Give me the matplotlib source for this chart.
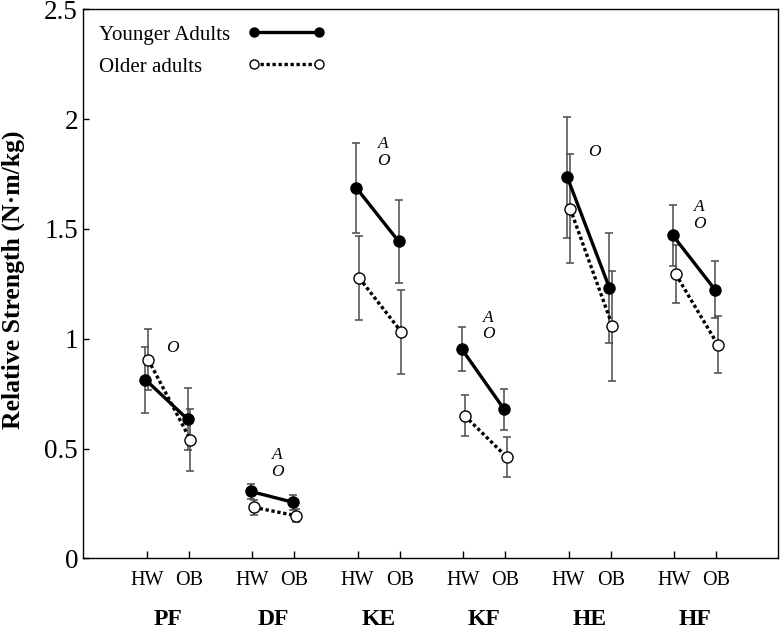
import matplotlib
matplotlib.use("Agg")
import matplotlib.pyplot as plt
from matplotlib.lines import Line2D

plt.rcParams['font.family'] = ['Liberation Serif', 'DejaVu Serif']

muscles = ["PF", "DF", "KE", "KF", "HE", "HF"]
conditions = ["HW", "OB"]

young_hw = [0.814, 0.305, 1.687, 0.953, 1.736, 1.471]
young_ob = [0.634, 0.256, 1.444, 0.680, 1.231, 1.224]
young_hw_err = [0.150, 0.035, 0.205, 0.100, 0.275, 0.140]
young_ob_err = [0.140, 0.033, 0.190, 0.093, 0.250, 0.130]

older_hw = [0.905, 0.233, 1.277, 0.650, 1.593, 1.295]
older_ob = [0.540, 0.195, 1.031, 0.461, 1.060, 0.973]
older_hw_err = [0.140, 0.034, 0.190, 0.092, 0.250, 0.130]
older_ob_err = [0.140, 0.031, 0.190, 0.092, 0.250, 0.130]

sig_marks = [["O"], ["A", "O"], ["A", "O"], ["A", "O"], ["O"], ["A", "O"]]
sig_top = [0.958, 0.47, 1.885, 1.095, 1.851, 1.599]

yticks = [0, 0.5, 1, 1.5, 2, 2.5]
ytick_labels = ["0", "0.5", "1", "1.5", "2", "2.5"]

fig = plt.figure(figsize=(7.8, 6.34), dpi=100)
ax = fig.add_axes([0.1068, 0.1191, 0.89, 0.8662])

pair = 0.4
off_y, off_o = -0.012, 0.015
dotted = (0, (1, 0.8))
ecol = '#4a4a4a'

for i in range(len(muscles)):
    xo = [i + off_o, i + pair + off_o]
    ax.errorbar(xo, [older_hw[i], older_ob[i]], yerr=[older_hw_err[i], older_ob_err[i]],
                fmt='none', ecolor=ecol, elinewidth=1.1, capsize=3.2, capthick=1.1, zorder=2)
    ax.plot(xo, [older_hw[i], older_ob[i]], linestyle=dotted, lw=2.4, color='black',
            marker='o', ms=8, mfc='white', mec='black', mew=1.0, zorder=3)
    xy = [i + off_y, i + pair + off_y]
    ax.errorbar(xy, [young_hw[i], young_ob[i]], yerr=[young_hw_err[i], young_ob_err[i]],
                fmt='none', ecolor=ecol, elinewidth=1.1, capsize=3.2, capthick=1.1, zorder=2)
    ax.plot(xy, [young_hw[i], young_ob[i]], linestyle='-', lw=2.4, color='black',
            marker='o', ms=8, mfc='black', mec='black', mew=1.0, zorder=4)
    y = sig_top[i]
    for m in sig_marks[i]:
        ax.text(i + 0.24, y, m, style='italic', fontsize=12.5, ha='center', va='center')
        y -= 0.075

xt, xl = [], []
for i in range(len(muscles)):
    xt += [i, i + pair]
    xl += conditions
ax.set_xticks(xt)
ax.set_xticklabels(xl)
ax.set_yticks(yticks)
ax.set_yticklabels(ytick_labels)
ax.set_xlim(-0.601, 5.981)
ax.set_ylim(0, 2.5)

ax.tick_params(axis='x', direction='in', length=5, width=1, labelsize=14.5, pad=9)
ax.tick_params(axis='y', direction='in', length=4.5, width=1, labelsize=19.5, pad=3.8)
for s in ax.spines.values():
    s.set_linewidth(1.0)

for i, m in enumerate(muscles):
    ax.text(i + pair / 2, -0.112, m, transform=ax.get_xaxis_transform(),
            ha='center', va='center', fontsize=17, fontweight='bold')

ax.set_ylabel("Relative Strength (N\u00b7m/kg)", fontsize=18.5, fontweight='bold')
ax.yaxis.set_label_coords(-0.084, 0.507)

young_h = Line2D([], [], color='black', lw=2.4, marker='o', ms=6.5, mfc='black', mec='black')
older_h = Line2D([], [], color='black', lw=2.4, ls=dotted, marker='o', ms=6.5,
                 mfc='white', mec='black', mew=1.0)
leg_fs = 15
leg = ax.legend([young_h, older_h], ["Younger Adults", "Older adults"], loc='upper left',
                frameon=False, markerfirst=False, numpoints=2, fontsize=leg_fs,
                handlelength=3.7, handletextpad=0.85, labelspacing=0.6,
                borderaxespad=0.2, borderpad=0.55)

# left-align the legend texts while keeping the handles aligned on the right
renderer = fig.canvas.get_renderer()
widths = [t.get_window_extent(renderer).width for t in leg.get_texts()]
rows = leg._legend_handle_box.get_children()[0].get_children()
wmax = max(widths)
for row, w in zip(rows, widths):
    row.sep = 0.85 * leg_fs + (wmax - w) * 72.0 / fig.dpi

fig.savefig("out.png", dpi=100)
